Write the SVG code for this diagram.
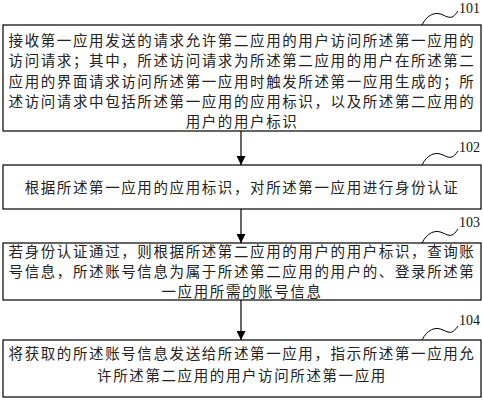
<svg xmlns="http://www.w3.org/2000/svg" width="483" height="400" viewBox="0 0 483 400">
<style>
.box{fill:#fff;stroke:#000;stroke-width:1.2}
.t{font-family:"Noto Sans CJK SC","Noto Sans CJK JP",sans-serif;font-size:14.5px;letter-spacing:1.6px;fill:#222;text-anchor:middle}
.lbl{font-family:"Liberation Serif",serif;font-size:14px;fill:#111}
.tilde{fill:none;stroke:#000;stroke-width:1}
.conn{stroke:#000;stroke-width:1.2;fill:none}
</style>
<defs>
<marker id="ah" viewBox="0 0 10 10" refX="10" refY="5" markerWidth="9" markerHeight="9" markerUnits="userSpaceOnUse" orient="auto">
<path d="M0,0 L10,5 L0,10 z" fill="#000"/>
</marker>
</defs>
<g id="n101">
<rect class="box" x="3" y="25" width="478" height="106"/>
<text class="t" x="242" y="45.5">接收第一应用发送的请求允许第二应用的用户访问所述第一应用的</text>
<text class="t" x="242" y="66">访问请求；其中，所述访问请求为所述第二应用的用户在所述第二</text>
<text class="t" x="242" y="86.5">应用的界面请求访问所述第一应用时触发所述第一应用生成的；所</text>
<text class="t" x="242" y="107">述访问请求中包括所述第一应用的应用标识，以及所述第二应用的</text>
<text class="t" x="242" y="127">用户的用户标识</text>
<path class="tilde" d="M422,25 C427,15 435,11 443,15 S453,18 458,11"/>
<text class="lbl" x="459" y="13">101</text>
</g>
<g id="n102">
<rect class="box" x="3" y="165" width="478" height="44"/>
<text class="t" x="242" y="192.5">根据所述第一应用的应用标识，对所述第一应用进行身份认证</text>
<path class="tilde" d="M422,165 C427,155 435,151 443,155 S453,158 458,151"/>
<text class="lbl" x="459" y="152">102</text>
</g>
<g id="n103">
<rect class="box" x="3" y="243" width="478" height="57"/>
<text class="t" x="242" y="256.5">若身份认证通过，则根据所述第二应用的用户的用户标识，查询账</text>
<text class="t" x="242" y="276.5">号信息，所述账号信息为属于所述第二应用的用户的、登录所述第</text>
<text class="t" x="242" y="296.5">一应用所需的账号信息</text>
<path class="tilde" d="M422,243 C427,233 435,229 443,233 S453,236 458,229"/>
<text class="lbl" x="459" y="227">103</text>
</g>
<g id="n104">
<rect class="box" x="3" y="340" width="478" height="57"/>
<text class="t" x="242" y="358.5">将获取的所述账号信息发送给所述第一应用，指示所述第一应用允</text>
<text class="t" x="242" y="381">许所述第二应用的用户访问所述第一应用</text>
<path class="tilde" d="M422,340 C427,330 435,326 443,330 S453,333 458,326"/>
<text class="lbl" x="459" y="325">104</text>
</g>
<g id="connectors">
<line class="conn" x1="241" y1="131" x2="241" y2="165" marker-end="url(#ah)"/>
<line class="conn" x1="241" y1="209" x2="241" y2="243" marker-end="url(#ah)"/>
<line class="conn" x1="241" y1="300" x2="241" y2="340" marker-end="url(#ah)"/>
</g>
</svg>
